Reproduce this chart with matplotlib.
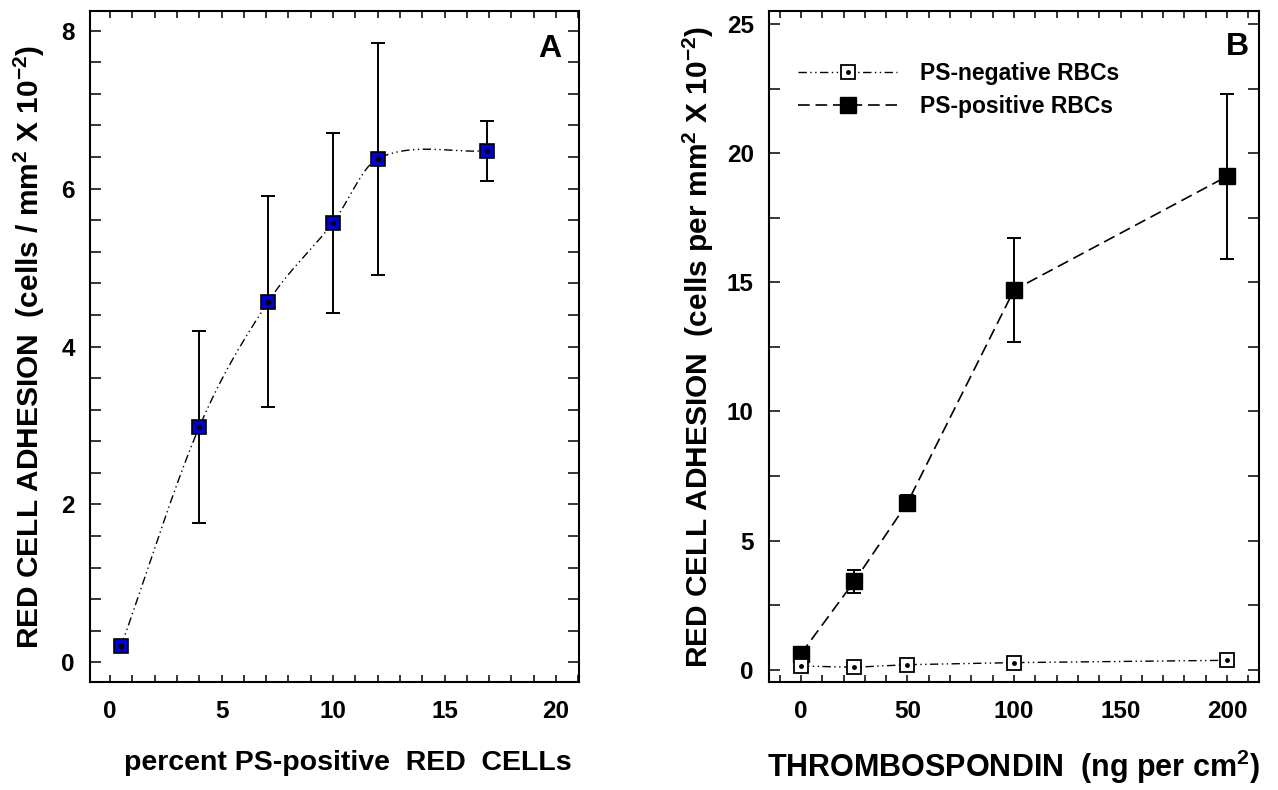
import numpy as np
import matplotlib
matplotlib.use('Agg')
import matplotlib.pyplot as plt
from matplotlib.lines import Line2D
from matplotlib.ticker import MultipleLocator

plt.rcParams['font.family'] = ['Liberation Sans', 'DejaVu Sans']
plt.rcParams['font.weight'] = 'bold'
plt.rcParams['mathtext.fontset'] = 'custom'
plt.rcParams['mathtext.rm'] = 'Liberation Sans:bold'
plt.rcParams['mathtext.bf'] = 'Liberation Sans:bold'
plt.rcParams['mathtext.it'] = 'Liberation Sans:bold'

# panel A: adhesion vs percent PS-positive red cells
pct_ps = [0.5, 4, 7.1, 10, 12, 16.9]
adh_a = [0.21, 2.98, 4.57, 5.57, 6.38, 6.48]
err_a = [0.0, 1.22, 1.34, 1.14, 1.47, 0.38]

# panel B: adhesion vs thrombospondin
tsp = [0, 25, 50, 100, 200]
adh_pos = [0.62, 3.42, 6.47, 14.7, 19.1]
err_pos = [0.15, 0.46, 0.3, 2.0, 3.2]
adh_neg = [0.15, 0.1, 0.2, 0.28, 0.37]

dashdotdot = (0, (6, 2.5, 1, 2.5, 1, 2.5))
dashed = (0, (7, 3.5))


def smooth(x, y, n=200):
    # cubic hermite through the points, slopes from neighbours
    x = np.asarray(x, float)
    y = np.asarray(y, float)
    m = np.empty_like(y)
    m[1:-1] = (y[2:] - y[:-2]) / (x[2:] - x[:-2])
    m[0] = (y[1] - y[0]) / (x[1] - x[0])
    m[-1] = (y[-1] - y[-2]) / (x[-1] - x[-2])
    xs, ys = [], []
    for i in range(len(x) - 1):
        h = x[i + 1] - x[i]
        t = np.linspace(0, 1, n // len(x))
        h00 = 2 * t**3 - 3 * t**2 + 1
        h10 = t**3 - 2 * t**2 + t
        h01 = -2 * t**3 + 3 * t**2
        h11 = t**3 - t**2
        xs.append(x[i] + t * h)
        ys.append(h00 * y[i] + h10 * h * m[i] + h01 * y[i + 1] + h11 * h * m[i + 1])
    return np.concatenate(xs), np.concatenate(ys)


def style_axes(ax):
    for s in ax.spines.values():
        s.set_linewidth(1.5)
    ax.tick_params(axis='both', which='both', direction='in', top=True, right=True,
                   width=1.1, labelsize=17.5, colors='black')
    ax.tick_params(axis='x', which='both', length=5, pad=13)
    ax.tick_params(axis='y', which='both', length=8, pad=11)
    for lab in ax.get_xticklabels() + ax.get_yticklabels():
        lab.set_fontweight('bold')


fig = plt.figure(figsize=(12.78, 7.9), dpi=100)

# ---- panel A ----
axA = fig.add_axes([90 / 1278, 108 / 790, 489 / 1278, 671 / 790])
sx, sy = smooth(pct_ps, adh_a)
axA.plot(sx, sy, color='black', lw=1.0, ls=dashdotdot)
axA.errorbar(pct_ps, adh_a, yerr=err_a, fmt='none', ecolor='black',
             elinewidth=1.4, capsize=5, capthick=1.4)
axA.plot(pct_ps, adh_a, 's', ms=10.5, mfc='#0000d0', mec='black', mew=1.2)
axA.plot(pct_ps, adh_a, 'o', ms=3, mfc='black', mec='black')
axA.set_xlim(-0.9, 21.03)
axA.set_ylim(-0.25, 8.25)
axA.xaxis.set_major_locator(MultipleLocator(5))
axA.xaxis.set_minor_locator(MultipleLocator(1))
axA.yaxis.set_major_locator(MultipleLocator(2))
axA.yaxis.set_minor_locator(MultipleLocator(0.4))
style_axes(axA)
axA.set_xlabel('percent PS-positive  RED  CELLs', fontsize=20.5, fontweight='bold')
axA.xaxis.set_label_coords(0.528, -0.102)
axA.set_ylabel(r'RED CELL ADHESION  (cells / mm$^{2}$ X 10$^{-2}$)',
               fontsize=21.5, fontweight='bold', labelpad=10)
axA.text(0.94, 0.943, 'A', transform=axA.transAxes, fontsize=23, fontweight='bold',
         ha='center', va='center')

# ---- panel B ----
axB = fig.add_axes([769 / 1278, 108 / 790, 490 / 1278, 671 / 790])
axB.plot(tsp, adh_pos, color='black', lw=1.2, ls=dashed)
axB.errorbar(tsp, adh_pos, yerr=err_pos, fmt='none', ecolor='black',
             elinewidth=1.4, capsize=5, capthick=1.4)
axB.plot(tsp, adh_pos, 's', ms=11, mfc='black', mec='black')
axB.plot(tsp, adh_neg, color='black', lw=1.0, ls=dashdotdot)
axB.plot(tsp, adh_neg, 's', ms=10.5, mfc='white', mec='black', mew=1.3)
axB.plot(tsp, adh_neg, 'o', ms=2.5, mfc='black', mec='black')
axB.set_xlim(-15, 215)
axB.set_ylim(-0.47, 25.5)
axB.xaxis.set_major_locator(MultipleLocator(50))
axB.xaxis.set_minor_locator(MultipleLocator(10))
axB.yaxis.set_major_locator(MultipleLocator(5))
axB.yaxis.set_minor_locator(MultipleLocator(2.5))
style_axes(axB)
axB.set_xlabel(r'THROMBOSPONDIN  (ng per cm$^{2}$)', fontsize=22, fontweight='bold', labelpad=18)
axB.set_ylabel(r'RED CELL ADHESION  (cells per mm$^{2}$ X 10$^{-2}$)',
               fontsize=21.5, fontweight='bold', labelpad=8)
axB.text(0.955, 0.947, 'B', transform=axB.transAxes, fontsize=23, fontweight='bold',
         ha='center', va='center')

neg_line = Line2D([], [], color='black', lw=1.0, ls=dashdotdot)
neg_box = Line2D([], [], ls='none', marker='s', ms=10.5, mfc='white', mec='black', mew=1.3)
neg_dot = Line2D([], [], ls='none', marker='o', ms=2.5, mfc='black', mec='black')
pos_line = Line2D([], [], color='black', lw=1.2, ls=dashed, marker='s', ms=11,
                  mfc='black', mec='black')
axB.legend([(neg_line, neg_box, neg_dot), pos_line], ['PS-negative RBCs', 'PS-positive RBCs'],
           loc='upper left', bbox_to_anchor=(0.018, 0.955), frameon=False,
           prop={'size': 16.5, 'weight': 'bold'}, handlelength=4.3, handletextpad=1.0,
           labelspacing=0.45)

fig.savefig('out.png', dpi=100)
